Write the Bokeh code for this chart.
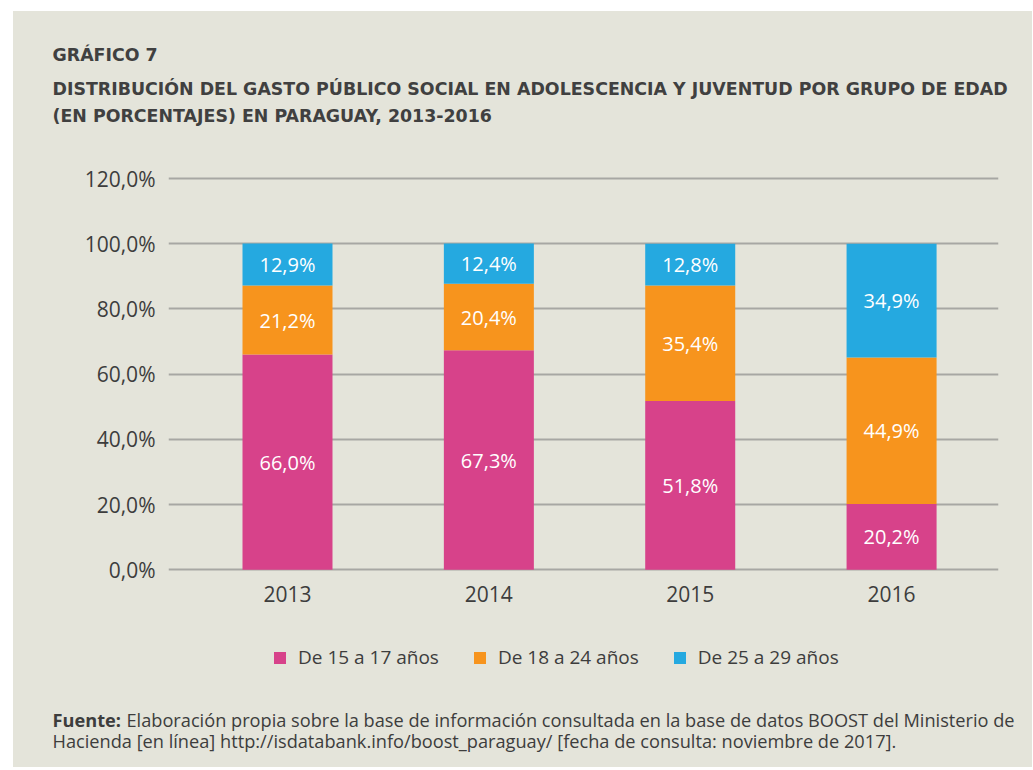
from bokeh.plotting import figure
from bokeh.models import (Range1d, FixedTicker, Legend, LegendItem, Label,
                          ColumnDataSource, Spacer)
from bokeh.layouts import column, row
from bokeh.core.properties import value
from bokeh.embed import file_html
from bokeh.resources import INLINE

# ---------------- data ----------------
years = ["2013", "2014", "2015", "2016"]
series_names = ["De 15 a 17 años", "De 18 a 24 años", "De 25 a 29 años"]
age_15_17 = [66.0, 67.3, 51.8, 20.2]
age_18_24 = [21.2, 20.4, 35.4, 44.9]
age_25_29 = [12.9, 12.4, 12.8, 34.9]
y_ticks = [0, 20, 40, 60, 80, 100, 120]
y_tick_labels = ["0,0%", "20,0%", "40,0%", "60,0%", "80,0%", "100,0%", "120,0%"]
colors = ["#d7428a", "#f7941d", "#25a9e0"]

title_lines = ["GRÁFICO 7",
               "DISTRIBUCIÓN DEL GASTO PÚBLICO SOCIAL EN ADOLESCENCIA Y JUVENTUD POR GRUPO DE EDAD",
               "(EN PORCENTAJES) EN PARAGUAY, 2013-2016"]
source_bold = "Fuente:"
source_line1 = "Elaboración propia sobre la base de información consultada en la base de datos BOOST del Ministerio de"
source_line2 = "Hacienda [en línea] http://isdatabank.info/boost_paraguay/ [fecha de consulta: noviembre de 2017]."

BG = "#e4e4da"
TXT = "#3d3d3d"
FONT = "Open Sans"
TFONT = "DejaVu Sans"

W = 1019
HT, HM, HF = 139, 468, 149


def style_fig(f):
    f.frame_align = False
    f.background_fill_color = BG
    f.border_fill_color = BG
    f.outline_line_color = None
    f.styles = {"background-color": BG}


def text_panel(h):
    f = figure(width=W, height=h, output_backend="svg", toolbar_location=None,
               x_range=Range1d(0, W), y_range=Range1d(0, h),
               x_axis_type=None, y_axis_type=None, min_border=0)
    style_fig(f)
    f.xgrid.visible = False
    f.ygrid.visible = False
    return f


# ---------------- title panel ----------------
pt = text_panel(HT)
for line, yb in zip(title_lines, [96, 62, 35]):
    pt.add_layout(Label(x=39, y=yb, text=line, text_font=TFONT,
                        text_font_style="bold", text_font_size="17.4px",
                        text_color="#404040", text_baseline="alphabetic"))

# ---------------- main chart ----------------
p = figure(width=W, height=HM, output_backend="svg", toolbar_location=None,
           x_range=Range1d(-0.591, 3.531), y_range=Range1d(-3.28, 124.0),
           min_border_left=155, min_border_right=34,
           min_border_top=15, min_border_bottom=38)
style_fig(p)

xs = list(range(len(years)))
fmt = lambda v: ("%.1f%%" % v).replace(".", ",")

sources = []
bottoms = [0.0] * len(years)
for vals, col in zip([age_15_17, age_18_24, age_25_29], colors):
    tops = [b + v for b, v in zip(bottoms, vals)]
    src = ColumnDataSource(dict(x=xs, bottom=bottoms, top=tops,
                                mid=[(b + t) / 2 for b, t in zip(bottoms, tops)],
                                lab=[fmt(v) for v in vals]))
    sources.append(src)
    p.vbar(x="x", bottom="bottom", top="top", width=0.447, source=src,
           fill_color=col, line_color=None)
    p.text(x="x", y="mid", text="lab", source=src, text_color="white",
           text_font=value(FONT), text_font_size="20px", text_align="center",
           text_baseline="middle")
    bottoms = tops

p.xgrid.grid_line_color = None
p.ygrid.ticker = FixedTicker(ticks=y_ticks)
p.ygrid.grid_line_color = "#a7a7a3"
p.ygrid.grid_line_width = 2
p.ygrid.level = "underlay"

p.yaxis.ticker = FixedTicker(ticks=y_ticks)
p.yaxis.major_label_overrides = {t: l for t, l in zip(y_ticks, y_tick_labels)}
p.xaxis.ticker = FixedTicker(ticks=xs)
p.xaxis.major_label_overrides = {i: y for i, y in enumerate(years)}
for ax in (p.xaxis, p.yaxis):
    ax.axis_line_color = None
    ax.major_tick_line_color = None
    ax.minor_tick_line_color = None
    ax.major_tick_out = 0
    ax.major_tick_in = 0
    ax.major_label_text_font = FONT
    ax.major_label_text_font_size = "21px"
    ax.major_label_text_color = TXT
p.yaxis.major_label_standoff = 13
p.xaxis.major_label_standoff = 5

# ---------------- legend + footer panel ----------------
pf = text_panel(HF)
# hidden copies of the stacked series, used only as legend entries
proxies = [pf.vbar(x="x", bottom="bottom", top="top", width=0.447, source=s,
                   fill_color=c, line_color=None, visible=False)
           for s, c in zip(sources, colors)]
legend = Legend(items=[LegendItem(label=n, renderers=[r]) for n, r in zip(series_names, proxies)],
                orientation="horizontal", location=(259, 97),
                glyph_width=15, glyph_height=15, label_standoff=11, spacing=33,
                label_text_font=FONT, label_text_font_size="19px",
                label_text_color=TXT, padding=0, margin=0,
                border_line_alpha=0, background_fill_alpha=0)
pf.add_layout(legend, "center")

pf.add_layout(Label(x=39, y=48, text=source_bold, text_font=FONT,
                    text_font_style="bold", text_font_size="18.2px",
                    text_color=TXT, text_baseline="alphabetic"))
pf.add_layout(Label(x=113, y=48, text=source_line1, text_font=FONT,
                    text_font_size="18.2px", text_color=TXT,
                    text_baseline="alphabetic"))
pf.add_layout(Label(x=39, y=27, text=source_line2, text_font=FONT,
                    text_font_size="18.2px", text_color=TXT,
                    text_baseline="alphabetic"))

inner = column(pt, p, pf, spacing=0, styles={"background-color": BG})
layout = column(Spacer(height=11),
                row(Spacer(width=13), inner, spacing=0),
                spacing=0)

open("out.html", "w").write(file_html(layout, INLINE))
